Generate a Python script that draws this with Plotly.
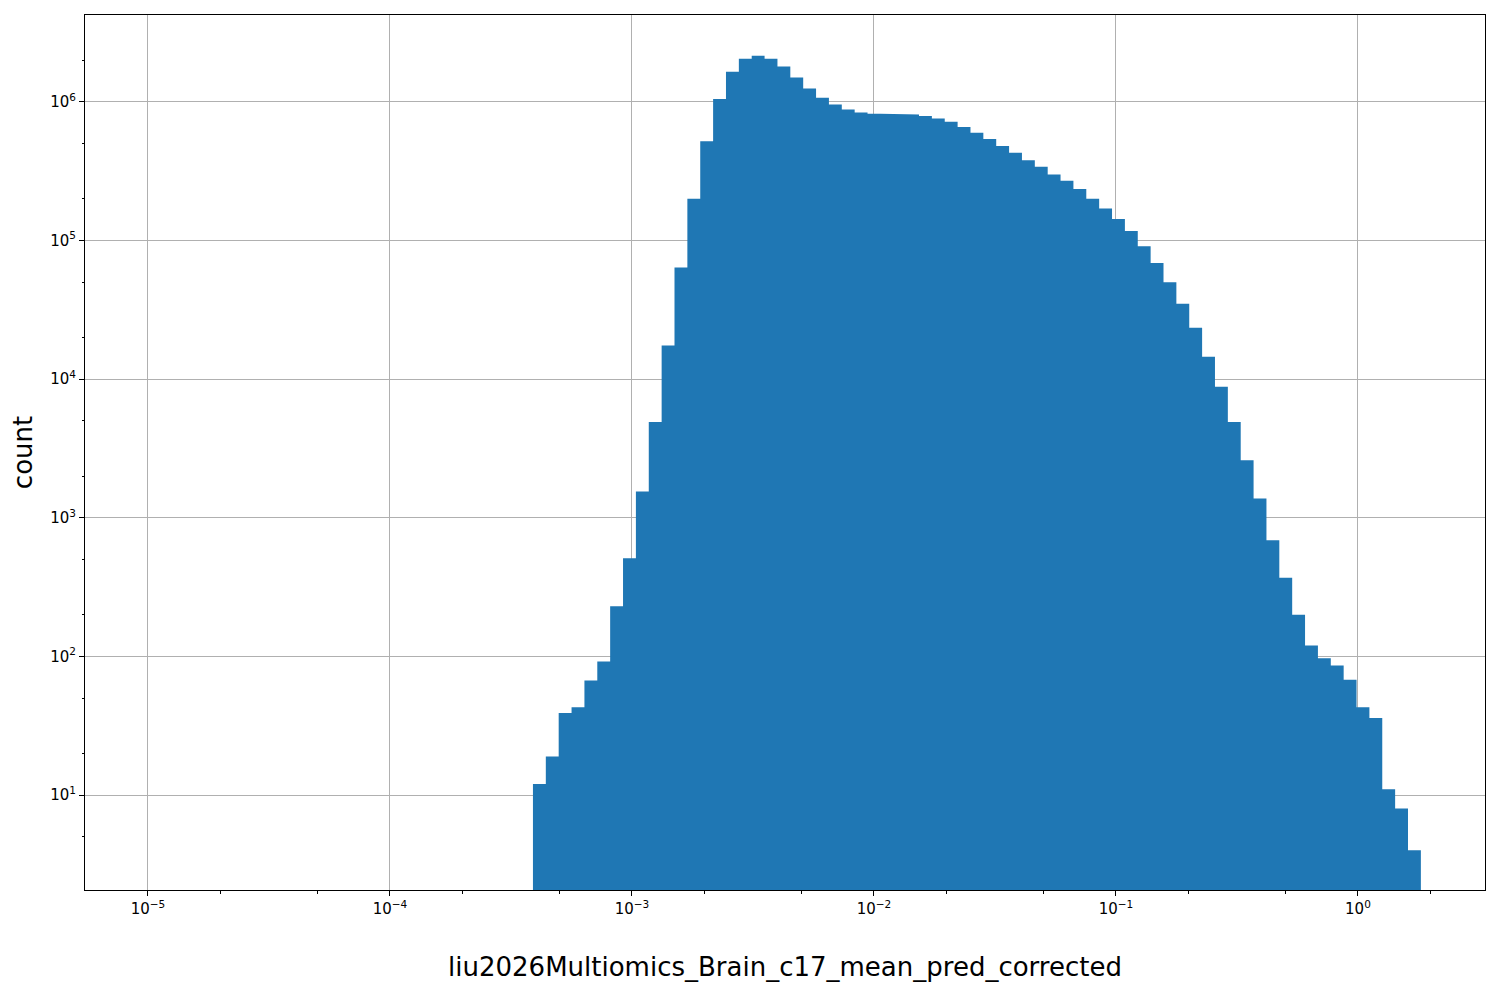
import numpy as np
import plotly.graph_objects as go

counts = [12, 19, 39, 43, 67, 92, 230, 510, 1550, 4900, 17500, 64000, 200000, 520000,
          1.05e6, 1.65e6, 2.05e6, 2.15e6, 2.05e6, 1.8e6, 1.5e6, 1.25e6, 1.07e6, 0.96e6,
          0.88e6, 0.84e6, 0.82e6, 0.82e6, 0.82e6, 0.81e6, 0.79e6, 0.76e6, 0.72e6, 0.66e6,
          0.60e6, 0.54e6, 0.48e6, 0.43e6, 0.38e6, 0.34e6, 0.30e6, 0.27e6, 0.235e6, 0.20e6,
          0.17e6, 0.143e6, 0.117e6, 0.091e6, 0.069e6, 0.050e6, 0.035e6, 23500, 14500, 8800,
          4900, 2600, 1380, 690, 370, 200, 120, 97, 86, 68, 43, 36, 11, 8, 4]
log_lo, log_hi = -3.409, 0.260
edges = np.logspace(log_lo, log_hi, len(counts) + 1)

xs, ys = [edges[0]], [1e-1]
for i, c in enumerate(counts):
    xs += [edges[i], edges[i + 1]]
    ys += [c, c]
xs.append(edges[-1]); ys.append(1e-1)

fig = go.Figure(go.Scatter(x=xs, y=ys, mode="lines", fill="toself",
                           fillcolor="#1f77b4", line=dict(width=0, color="#1f77b4"),
                           hoverinfo="skip"))

def sup(n):
    return "10<sup>" + str(n).replace("-", "−") + "</sup>"

xt = [-5, -4, -3, -2, -1, 0]
yt = [1, 2, 3, 4, 5, 6]
ax = dict(showline=True, linecolor="black", linewidth=1, mirror=True,
          gridcolor="#b0b0b0", gridwidth=1, ticks="outside", ticklen=5,
          tickcolor="black", tickfont=dict(size=15, color="black"), zeroline=False,
          minor=dict(ticks="outside", ticklen=2.5, tickcolor="black", showgrid=False))
fig.update_xaxes(type="log", range=[-5.26, 0.525], tickvals=[10.0**v for v in xt],
                 ticktext=[sup(v) for v in xt],
                 title=dict(text="liu2026Multiomics_Brain_c17_mean_pred_corrected",
                            font=dict(size=26, color="black"), standoff=40), **ax)
fig.update_yaxes(type="log", range=[0.315, 6.627], tickvals=[10.0**v for v in yt],
                 ticktext=[sup(v) for v in yt],
                 title=dict(text="count", font=dict(size=26, color="black"), standoff=10), **ax)
fig.update_layout(width=1500, height=1000, margin=dict(l=77, r=23, t=7, b=118),
                  plot_bgcolor="white", paper_bgcolor="white", showlegend=False,
                  font=dict(family="DejaVu Sans"))
fig.write_html("out.html")
